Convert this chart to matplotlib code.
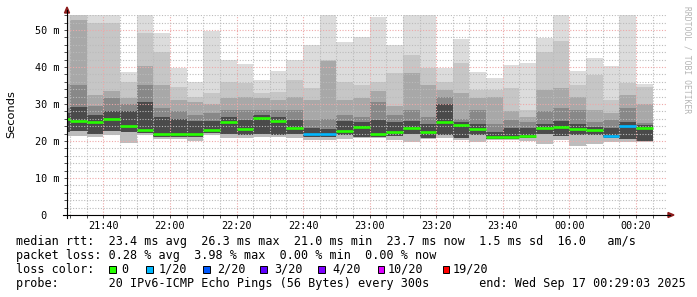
import matplotlib
matplotlib.use("Agg")
import matplotlib.pyplot as plt
from matplotlib.lines import Line2D
from matplotlib.patches import Polygon, Rectangle

# minutes after 21:00 at which each 5 minute smoke bar starts
bar_start = [25, 30, 35, 40, 45, 50, 55, 60, 65, 70, 75, 80, 85, 90, 95, 100, 105, 110,
             115, 120, 125, 130, 135, 140, 145, 150, 155, 160, 165, 170, 175, 180, 185, 190, 195, 200]
# smoke band boundaries (ms), from the highest ping down to the lowest
ping_max = [54, 54, 54, 54, 38.7, 54, 49.3, 39.8, 36, 49.8, 41.9, 40.8, 36.5, 38.9, 41.9, 46, 54, 46.8,
            48, 53.4, 46, 54, 54, 39.8, 47.7, 38.7, 36.9, 40.5, 41.2, 47.8, 54, 38.9, 42.3, 40.3, 54, 35.5]
band_d = [44.5, 54, 52, 52, 36, 49.3, 44, 34.5, 31.8, 33, 36, 35.6, 33, 33.3, 36.5, 34.3, 42, 36,
          35.1, 36, 38.5, 43.3, 39.6, 36, 41, 33.8, 33.8, 34.2, 28.4, 44, 47, 35, 37.8, 31, 35.6, 34.5]
band_c = [35.5, 52.7, 32.3, 33.5, 31.5, 40.2, 35, 31, 30.5, 30, 31.5, 32, 31.5, 31, 32, 31, 41.5, 31.1,
          31.5, 33.5, 29.5, 38.5, 35, 33.8, 33, 31.5, 32, 28, 26.5, 33.8, 34.2, 32, 28.4, 27.5, 32.3, 30]
band_b = [29, 35, 29.5, 31.5, 30, 35, 29, 28, 27, 27.5, 28.4, 28.4, 28.4, 28.4, 28.4, 25.7, 26, 27,
          26.5, 30.5, 27, 28.4, 26.5, 32, 26, 28.4, 24.7, 25.7, 25, 28, 29, 28.4, 25, 25.7, 29, 24.8]
band_a = [27.5, 29.3, 27, 28, 28, 30.5, 26.5, 26, 25.5, 25.5, 26.5, 25.7, 27, 26.5, 25.7, 23.5, 23.3, 25.5,
          25, 25.7, 25, 25.5, 24.5, 30, 25, 24.5, 22.5, 23.5, 23.5, 24.5, 25.5, 24.5, 23.8, 23.5, 25, 24.2]
median = [25.9, 25.4, 25.1, 25.9, 24.0, 23.0, 21.8, 21.8, 22.0, 23.0, 25.1, 23.3, 26.1, 25.4, 23.5, 21.9, 21.9, 22.6,
          23.7, 21.9, 22.4, 23.5, 22.3, 25.0, 24.4, 23.2, 21.0, 21.1, 21.4, 23.6, 23.9, 23.2, 23.0, 21.4, 24.1, 23.6]
band_lo = [22.5, 22.8, 22, 22.8, 22.3, 22.2, 21, 21, 21, 22.2, 21.8, 21.6, 22, 21.5, 21.8, 21, 21, 21.5,
           21, 21, 21.3, 22, 20.9, 21.5, 20.8, 21.5, 20.5, 20.5, 20.8, 22, 21.3, 21.5, 21.5, 20.8, 20.5, 20]
ping_min = [21.3, 21.3, 21, 21.7, 19.4, 21.6, 20.5, 20.6, 20, 21.6, 20.7, 20.7, 21, 21.2, 20.8, 20.4, 20.2, 20.6,
            20.7, 20.8, 20.4, 19.8, 20.5, 20.8, 20.3, 19.6, 20.2, 20.2, 19.9, 19.2, 20.3, 18.7, 19.1, 19.8, 19.8, 19.6]
# lost pings out of 20 per bar
loss = [0, 0, 0, 0, 0, 0, 0, 0, 0, 0, 0, 0, 0, 0, 0, 1, 1, 0,
        0, 0, 0, 0, 0, 0, 0, 0, 0, 0, 0, 0, 0, 0, 0, 1, 1, 0]

loss_labels = ["0", "1/20", "2/20", "3/20", "4/20", "10/20", "19/20"]
loss_counts = [0, 1, 2, 3, 4, 10, 19]
loss_colors = ["#26ff00", "#00b8ff", "#0059ff", "#5e00ff", "#7e00ff", "#dd00ff", "#ff0000"]

x_ticks = [40, 60, 80, 100, 120, 140, 160, 180, 200]
x_tick_labels = ["21:40", "22:00", "22:20", "22:40", "23:00", "23:20", "23:40", "00:00", "00:20"]
y_ticks = [0, 10, 20, 30, 40, 50]
y_tick_labels = [" 0", "10 m", "20 m", "30 m", "40 m", "50 m"]

W, H = 697, 297
MONO = "DejaVu Sans Mono"


def fx(x, y):
    return (x / W, 1 - y / H)


fig = plt.figure(figsize=(W / 100, H / 100), dpi=100)
ax = fig.add_axes([67 / W, 82 / H, 599 / W, 200 / H])

bands = [
    (ping_min, band_lo, "#bdbdbd"),
    (band_lo, band_a, "#4a4a4a"),
    (band_a, band_b, "#888888"),
    (band_b, band_c, "#a8a8a8"),
    (band_c, band_d, "#c6c6c6"),
    (band_d, ping_max, "#dcdcdc"),
]
for lo, hi, col in bands:
    ax.bar(bar_start, [h - l for l, h in zip(lo, hi)], bottom=lo, width=5, align="edge",
           color=col, linewidth=0, zorder=1)

med_colors = [loss_colors[loss_counts.index(n)] for n in loss]
lc = ax.hlines(median, bar_start, [s + 5 for s in bar_start], colors=med_colors, lw=1.9, zorder=3)
lc.set_capstyle("butt")

ax.set_xlim(29.05, 209.05)
ax.set_ylim(0, 200 / 3.7)
ax.set_xticks(x_ticks, x_tick_labels)
ax.set_xticks(range(30, 210, 5), minor=True)
ax.set_yticks(y_ticks, y_tick_labels)
ax.set_yticks(range(0, 56, 2), minor=True)
ax.set_axisbelow(False)
ax.grid(which="minor", color="#bbbbbb", lw=0.8, ls=(0, (1, 1.5)))
ax.grid(which="major", color="#eea8a8", lw=0.8, ls=(0, (1, 1.5)))
ax.tick_params(which="both", length=2, width=0.6, direction="out", color="#333333")
ax.tick_params(axis="x", which="major", pad=2.2, labelsize=7.3)
ax.tick_params(axis="y", which="major", pad=20.9, labelsize=7.3)
for t in ax.get_xticklabels() + ax.get_yticklabels():
    t.set_fontfamily(MONO)
for t in ax.get_yticklabels():
    t.set_ha("left")
for s in ax.spines.values():
    s.set_visible(False)

# axes with arrow heads
fig.add_artist(Line2D([63 / W, 670 / W], [1 - 215 / H] * 2, color="black", lw=0.8, transform=fig.transFigure))
fig.add_artist(Line2D([67 / W] * 2, [1 - 218 / H, 1 - 10 / H], color="black", lw=0.8, transform=fig.transFigure))
fig.add_artist(Polygon([fx(668, 212.5), fx(674, 215), fx(668, 217.5)], closed=True,
                       color="#8b1a1a", transform=fig.transFigure))
fig.add_artist(Polygon([fx(64.5, 13), fx(67, 7), fx(69.5, 13)], closed=True,
                       color="#8b1a1a", transform=fig.transFigure))

fig.text(*fx(11, 114), "Seconds", rotation=90, ha="center", va="center", fontsize=8.2,
         family="DejaVu Sans")
fig.text(*fx(687, 60), "RRDTOOL / TOBI OETIKER", rotation=270, ha="center", va="center",
         fontsize=5.8, family=MONO, color="#b4b4b4")

fs = 8.5
fig.text(*fx(16, 241), "median rtt:  23.4 ms avg  26.3 ms max  21.0 ms min  23.7 ms now  1.5 ms sd  16.0   am/s",
         ha="left", va="center", fontsize=fs, family=MONO)
fig.text(*fx(16, 255.7), "packet loss: 0.28 % avg  3.98 % max  0.00 % min  0.00 % now",
         ha="left", va="center", fontsize=fs, family=MONO)
fig.text(*fx(16, 269.3), "loss color:", ha="left", va="center", fontsize=fs, family=MONO)
sq_x = [109, 146, 203, 260, 318, 378, 443]
txt_x = [121, 159, 217, 274, 332, 388, 453]
for sx, tx, lab, col in zip(sq_x, txt_x, loss_labels, loss_colors):
    fig.add_artist(Rectangle(fx(sx, 272.5), 6.5 / W, 6.5 / H, facecolor=col, edgecolor="black",
                             lw=0.7, transform=fig.transFigure))
    fig.text(*fx(tx, 269.3), lab, ha="left", va="center", fontsize=fs, family=MONO)
fig.text(*fx(16, 283.3), "probe:       20 IPv6-ICMP Echo Pings (56 Bytes) every 300s       "
         "end: Wed Sep 17 00:29:03 2025", ha="left", va="center", fontsize=fs, family=MONO)

fig.savefig("out.png", dpi=100)
